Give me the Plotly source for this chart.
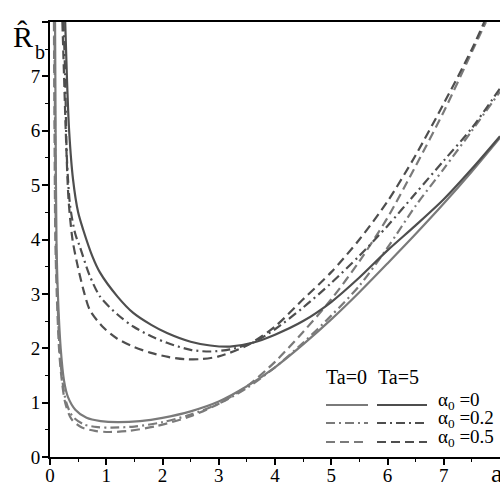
import plotly.graph_objects as go

# ---- data (a, R_b) ----
# Ta = 0 family
a_t0_s = [0.09, 0.10, 0.115, 0.14, 0.19, 0.25, 0.32, 0.45, 0.65, 0.9, 1.2, 1.6, 2.0, 2.5, 3.0, 3.5, 4.0, 4.5, 5.0, 5.5, 6.0, 6.5, 7.0, 7.5, 8.0]
r_t0_s = [8.0, 6.0, 4.0, 3.0, 2.0, 1.4, 1.1, 0.87, 0.72, 0.66, 0.64, 0.66, 0.72, 0.84, 1.02, 1.3, 1.65, 2.07, 2.53, 3.03, 3.56, 4.1, 4.66, 5.25, 5.87]

a_t0_dd = [0.08, 0.09, 0.105, 0.13, 0.17, 0.22, 0.29, 0.4, 0.6, 0.85, 1.1, 1.5, 2.0, 2.5, 3.0, 3.5, 4.0, 4.5, 5.0, 5.5, 6.0, 6.5, 7.0, 7.5, 8.0]
r_t0_dd = [8.0, 6.0, 4.0, 3.0, 2.0, 1.4, 1.0, 0.75, 0.6, 0.55, 0.54, 0.56, 0.64, 0.78, 0.98, 1.27, 1.65, 2.1, 2.6, 3.15, 3.85, 4.62, 5.3, 6.0, 6.72]

a_t0_d = [0.07, 0.08, 0.095, 0.12, 0.16, 0.2, 0.27, 0.38, 0.55, 0.8, 1.05, 1.4, 1.9, 2.5, 3.0, 3.5, 4.0, 4.5, 5.0, 5.5, 6.0, 6.5, 7.0, 7.5, 7.75]
r_t0_d = [8.0, 6.0, 4.0, 3.0, 2.0, 1.5, 1.0, 0.7, 0.55, 0.48, 0.46, 0.48, 0.57, 0.75, 0.98, 1.3, 1.75, 2.3, 2.9, 3.6, 4.4, 5.35, 6.35, 7.45, 8.0]

# Ta = 5 family
a_t5_s = [0.27, 0.3, 0.34, 0.41, 0.5, 0.59, 0.75, 0.89, 1.2, 1.48, 1.8, 2.08, 2.5, 2.85, 3.2, 3.6, 4.0, 4.5, 5.0, 5.5, 6.0, 6.5, 7.0, 7.5, 8.0]
r_t5_s = [8.0, 7.0, 6.0, 5.1, 4.5, 4.18, 3.7, 3.39, 2.95, 2.65, 2.43, 2.28, 2.12, 2.05, 2.03, 2.1, 2.25, 2.5, 2.85, 3.3, 3.8, 4.26, 4.74, 5.3, 5.9]

a_t5_dd = [0.24, 0.27, 0.3, 0.36, 0.45, 0.53, 0.7, 0.89, 1.2, 1.48, 1.8, 2.08, 2.5, 2.85, 3.2, 3.6, 4.0, 4.5, 5.0, 5.5, 6.0, 6.5, 7.0, 7.5, 8.0]
r_t5_dd = [8.0, 7.0, 5.5, 4.6, 4.1, 3.87, 3.35, 2.95, 2.62, 2.4, 2.22, 2.1, 1.97, 1.94, 1.98, 2.1, 2.35, 2.75, 3.2, 3.7, 4.25, 4.85, 5.45, 6.05, 6.78]

a_t5_d = [0.22, 0.25, 0.28, 0.33, 0.4, 0.48, 0.6, 0.71, 0.95, 1.19, 1.5, 1.78, 2.1, 2.4, 2.67, 3.0, 3.5, 4.0, 4.5, 5.0, 5.5, 6.0, 6.5, 7.0, 7.5, 7.72]
r_t5_d = [8.0, 7.0, 6.0, 4.73, 4.0, 3.57, 3.05, 2.7, 2.38, 2.18, 2.02, 1.92, 1.84, 1.8, 1.8, 1.85, 2.05, 2.4, 2.9, 3.4, 4.0, 4.7, 5.55, 6.5, 7.5, 8.0]

x_ticks = [0, 1, 2, 3, 4, 5, 6, 7]
y_ticks = [0, 1, 2, 3, 4, 5, 6, 7, 8]
y_tick_text = ["0", "1", "2", "3", "4", "5", "6", "7", ""]

C0 = "rgb(122,122,122)"   # Ta = 0
C5 = "rgb(78,78,78)"      # Ta = 5
DASH = "9px,5px"
DASHDOT = "9px,4px,2px,4px"

series = [
    (a_t0_s, r_t0_s, C0, "solid"),
    (a_t0_dd, r_t0_dd, C0, DASHDOT),
    (a_t0_d, r_t0_d, C0, DASH),
    (a_t5_s, r_t5_s, C5, "solid"),
    (a_t5_dd, r_t5_dd, C5, DASHDOT),
    (a_t5_d, r_t5_d, C5, DASH),
]

fig = go.Figure()
for xs, ys, col, dash in series:
    fig.add_trace(go.Scatter(x=xs, y=ys, mode="lines",
                             line=dict(color=col, width=2.2, dash=dash, shape="spline", smoothing=0.8),
                             showlegend=False, hoverinfo="skip"))

FONT = "Liberation Serif, Times New Roman, serif"
W, H = 500, 482
L, R, T, B = 50, 0, 22, 25
pw, ph = W - L - R, H - T - B

fig.update_layout(
    width=W, height=H,
    margin=dict(l=L, r=R, t=T, b=B, autoexpand=False),
    paper_bgcolor="white", plot_bgcolor="white",
    showlegend=False,
    font=dict(family=FONT, size=19, color="black"),
    xaxis=dict(range=[0, 8], showgrid=False, zeroline=False, showline=True, linecolor="black",
               linewidth=2, mirror=True, ticks="outside", ticklen=6, tickwidth=1.5, tickcolor="black",
               tickvals=x_ticks, ticktext=[str(v) for v in x_ticks], automargin=False,
               ticklabelstandoff=-6,
               minor=dict(ticks="outside", ticklen=3, tickwidth=1.2, tickcolor="black", dtick=0.5, tick0=0),
               tickfont=dict(family=FONT, size=19)),
    yaxis=dict(range=[0, 8], showgrid=False, zeroline=False, showline=True, linecolor="black",
               linewidth=2, ticks="outside", ticklen=6, tickwidth=1.5, tickcolor="black",
               tickvals=y_ticks, ticktext=y_tick_text, automargin=False,
               ticklabelstandoff=-2,
               minor=dict(ticks="outside", ticklen=3, tickwidth=1.2, tickcolor="black", dtick=0.5, tick0=0),
               tickfont=dict(family=FONT, size=19)),
)


def px(xp):
    return (xp - L) / pw


def py(yp):
    return ((H - yp) - B) / ph


# axis title labels
fig.add_annotation(text="R̂", x=px(11), y=py(36), xref="paper", yref="paper", showarrow=False,
                   font=dict(family=FONT, size=30), xanchor="left", yanchor="middle")
fig.add_annotation(text="b", x=px(33), y=py(52), xref="paper", yref="paper", showarrow=False,
                   font=dict(family=FONT, size=20), xanchor="left", yanchor="middle")
fig.add_annotation(text="a", x=px(489), y=py(474), xref="paper", yref="paper", showarrow=False,
                   font=dict(family=FONT, size=26), xanchor="left", yanchor="middle")

# custom legend grid
fig.add_annotation(text="Ta=0", x=px(324), y=py(390), xref="paper", yref="paper", showarrow=False,
                   xanchor="left", font=dict(family=FONT, size=20))
fig.add_annotation(text="Ta=5", x=px(376), y=py(390), xref="paper", yref="paper", showarrow=False,
                   xanchor="left", font=dict(family=FONT, size=20))
rows = [(405, "solid", "α<sub>0</sub> =0"), (423, DASHDOT, "α<sub>0</sub> =0.2"), (442, DASH, "α<sub>0</sub> =0.5")]
for yp, dash, lab in rows:
    for x0, x1, col in [(326, 368, C0), (377, 427, C5)]:
        fig.add_shape(type="line", xref="paper", yref="paper", x0=px(x0), x1=px(x1), y0=py(yp), y1=py(yp),
                      line=dict(color=col, width=2.2, dash=dash))
    fig.add_annotation(text=lab, x=px(436), y=py(yp + 10), xref="paper", yref="paper", showarrow=False,
                       xanchor="left", font=dict(family=FONT, size=19))

fig.write_html("out.html", config={"displayModeBar": False},
               post_script="document.body.style.margin='0';document.body.style.overflow='hidden';")
